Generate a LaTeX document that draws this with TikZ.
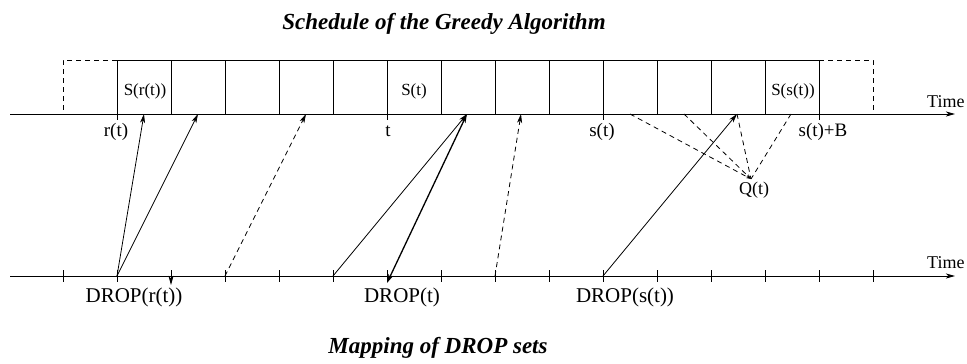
\documentclass[tikz,border=0pt]{standalone}
\usepackage{fontspec}
\setmainfont{Liberation Serif}
\usetikzlibrary{arrows.meta}
\tikzset{
  ln/.style={line width=0.8pt},
  tip/.style={-{Stealth[length=9pt,width=5pt,inset=2.5pt]}},
  smalltip/.style={-{Stealth[length=5pt,width=3pt,inset=1.5pt]}},
  dsh/.style={dash pattern=on 5pt off 4pt},
  slot/.style={draw,ln,minimum width=54pt,minimum height=54pt,inner sep=0pt,outer sep=0pt,anchor=north west},
  lab/.style={inner sep=0pt,anchor=base,font=\fontsize{19}{22}\selectfont},
  slab/.style={inner sep=0pt,anchor=base,font=\fontsize{17}{20}\selectfont},
  dlab/.style={inner sep=0pt,anchor=base,font=\fontsize{21}{24}\selectfont},
  ttl/.style={inner sep=0pt,anchor=base,font=\fontsize{23}{26}\selectfont\bfseries\itshape},
}
\begin{document}
\begin{tikzpicture}[x=1pt,y=-1pt]
\useasboundingbox (0,0) rectangle (967,364);
% titles
\node[ttl] (t1) at (444,29) {Schedule of the Greedy Algorithm};
\node[ttl] (t2) at (438,353) {Mapping of DROP sets};
% axes
\coordinate (a0) at (10,114);
\coordinate (a1) at (955,114);
\coordinate (b0) at (10,276);
\coordinate (b1) at (955,276);
\draw[ln,tip] (a0) -- (a1);
\draw[ln,tip] (b0) -- (b1);
\node[inner sep=0pt,anchor=base west,font=\fontsize{18}{20}\selectfont] (time1) at (927,107) {Time};
\node[inner sep=0pt,anchor=base west,font=\fontsize{18}{20}\selectfont] (time2) at (927,268) {Time};
% dashed boxes
\draw[ln,dsh] (117,60) -- (63,60) -- (63,114);
\draw[ln,dsh] (819,60) -- (873,60) -- (873,114);
% solid slots
\foreach \i in {0,...,12} {
  \node[slot] (s\i) at ({117+54*\i},60) {};
}
% slot labels
\node[slab] (lsr) at (145,95) {S(r(t))};
\node[slab] (lst) at (414,95) {S(t)};
\node[slab] (lss) at (793,95) {S(s(t))};
% top ticks
\foreach \x/\n in {117/rt,387/tt,603/st,819/sb} {
  \coordinate (top\n) at (\x,114);
  \draw[ln] (top\n) -- ++(0,6);
}
\node[lab] (lrt) at (116,136) {r(t)};
\node[lab] (ltt) at (388,136) {t};
\node[lab] (lst2) at (602,136) {s(t)};
\node[lab] (lsb) at (823,136) {s(t)+B};
% bottom ticks
\foreach \i in {0,...,15} {
  \coordinate (b\i) at ({63+54*\i},276);
  \draw[ln] ({63+54*\i},270) -- ({63+54*\i},282);
}
\coordinate (k2top) at (171,270);
\coordinate (k2) at (171,285);
\coordinate (k6) at (387,283);
\node[dlab] (d1) at (134,302) {DROP(r(t))};
\node[dlab] (d2) at (402,302) {DROP(t)};
\node[dlab] (d3) at (625,302) {DROP(s(t))};
% top target points
\coordinate (p1) at (144,114);
\coordinate (p2) at (198,114);
\coordinate (p3) at (306,114);
\coordinate (p4) at (467,114);
\coordinate (p5) at (521,114);
\coordinate (p6) at (737,114);
\coordinate (q1) at (630,114);
\coordinate (q2) at (684,114);
\coordinate (q4) at (791,114);
% mapping arrows
\draw[ln,tip] (b1) -- (p1);
\draw[ln,tip] (b1) -- (p2);
\draw[ln,dsh,tip] (b3) -- (p3);
\draw[ln,tip] (k2top) -- (k2);
\draw[ln,tip] (b5) -- (p4);
\draw[line width=1.3pt,{Stealth[length=9pt,width=5pt,inset=2.5pt]}-{Stealth[length=9pt,width=5pt,inset=2.5pt]}] (k6) -- (p4);
\draw[ln,dsh,tip] (b8) -- (p5);
\draw[ln,tip] (b10) -- (p6);
% Q(t)
\node[inner sep=0pt,anchor=base,font=\fontsize{18}{20}\selectfont] (Q) at (754,194) {Q(t)};
\coordinate (qt) at (751,179);
\draw[ln,dsh,smalltip] (q1) -- (qt);
\draw[ln,dsh,smalltip] (q2) -- (qt);
\draw[ln,dsh] (p6) -- (qt);
\draw[ln,dsh] (q4) -- (qt);
\end{tikzpicture}
\end{document}
